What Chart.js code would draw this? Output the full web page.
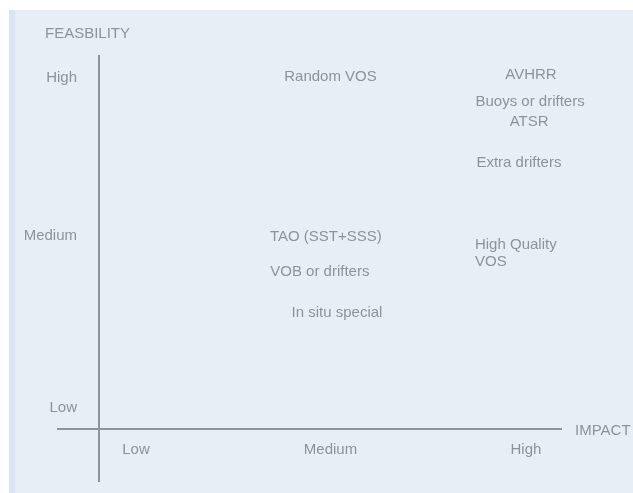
<!DOCTYPE html>
<html>
<head>
<meta charset="utf-8">
<script src="https://cdn.jsdelivr.net/npm/chart.js@4.4.1/dist/chart.umd.min.js"></script>
<style>
  html, body { margin: 0; padding: 0; background: #fff; }
</style>
</head>
<body>
<canvas id="chart" width="633" height="493"></canvas>
<script>
// items placed on the impact / feasibility grid (0-10 on both axes)
const itemLabels = ['Random VOS', 'AVHRR', 'Buoys or drifters', 'ATSR', 'Extra drifters',
                    'TAO (SST+SSS)', 'High Quality\nVOS', 'VOB or drifters', 'In situ special'];
const impact      = [5.0, 9.33, 9.31, 9.29, 9.07, 4.9, 8.12, 4.77, 5.14];
const feasibility = [9.41, 9.47, 8.74, 8.21, 7.11, 5.13, 4.92, 4.2, 3.1];
const itemAlign   = ['center', 'center', 'center', 'center', 'center', 'center', 'left', 'center', 'center'];

const levelLabels      = ['Low', 'Medium', 'High'];
const impactTicks      = [0.8, 5.0, 9.22];
const feasibilityTicks = [0.56, 5.16, 9.39];

const xTitle = 'IMPACT';
const yTitle = 'FEASBILITY';

const FONT = '15px "Liberation Sans", Arial, sans-serif';
const TEXT = '#8e939a';

const quadrantPlugin = {
    id: 'quadrant',
    beforeDraw(chart) {
        const { ctx, width, height } = chart;
        ctx.save();
        ctx.fillStyle = '#ffffff';
        ctx.fillRect(0, 0, width, height);
        ctx.fillStyle = '#e8eef6';
        ctx.fillRect(9, 10, width - 9, height - 10);
        ctx.fillStyle = '#d9e5f1';
        ctx.fillRect(9, 10, 6, height - 10);
        ctx.restore();
    },
    afterDatasetsDraw(chart) {
        const { ctx, scales: { x, y } } = chart;
        const x0 = x.getPixelForValue(0);
        const y0 = y.getPixelForValue(0);
        const xEnd = x.getPixelForValue(x.max);
        const yEnd = y.getPixelForValue(y.max);

        ctx.save();
        // crossing axes
        ctx.strokeStyle = '#8f949b';
        ctx.lineWidth = 2;
        ctx.beginPath();
        ctx.moveTo(x0 - 42, y0);
        ctx.lineTo(xEnd, y0);
        ctx.moveTo(x0, yEnd);
        ctx.lineTo(x0, y0 + 53);
        ctx.stroke();

        ctx.font = FONT;
        ctx.fillStyle = TEXT;
        ctx.textBaseline = 'middle';

        // level labels
        ctx.textAlign = 'center';
        levelLabels.forEach((l, i) => ctx.fillText(l, x.getPixelForValue(impactTicks[i]), y0 + 21));
        ctx.textAlign = 'right';
        levelLabels.forEach((l, i) => ctx.fillText(l, x0 - 22, y.getPixelForValue(feasibilityTicks[i])));

        // axis titles
        ctx.textAlign = 'left';
        ctx.fillText(xTitle, xEnd + 13, y0 + 2);
        ctx.fillText(yTitle, x0 - 54, yEnd - 21);

        // item labels
        const meta = chart.getDatasetMeta(0);
        meta.data.forEach((pt, i) => {
            ctx.textAlign = itemAlign[i];
            itemLabels[i].split('\n').forEach((line, k) => {
                ctx.fillText(line, pt.x, pt.y + k * 17);
            });
        });
        ctx.restore();
    }
};

new Chart(document.getElementById('chart'), {
    type: 'scatter',
    data: {
        datasets: [{
            data: impact.map((v, i) => ({ x: v, y: feasibility[i] })),
            pointRadius: 0,
            pointHoverRadius: 0
        }]
    },
    options: {
        responsive: false,
        animation: false,
        layout: { padding: { left: 99, right: 71, top: 55, bottom: 64 } },
        scales: {
            x: { type: 'linear', min: 0, max: 10, display: false },
            y: { type: 'linear', min: 0, max: 10, display: false }
        },
        plugins: {
            legend: { display: false },
            tooltip: { enabled: false }
        }
    },
    plugins: [quadrantPlugin]
});
</script>
</body>
</html>
